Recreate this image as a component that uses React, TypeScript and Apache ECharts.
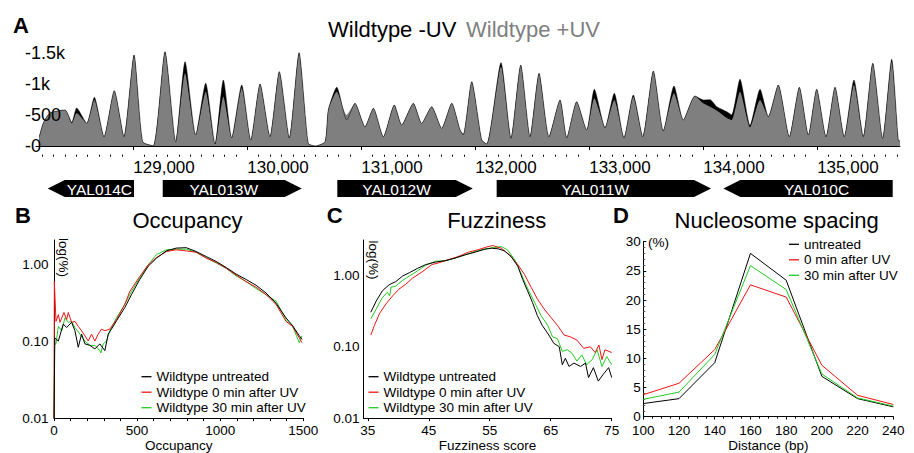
import React, { useEffect, useRef } from "react";
import * as echarts from "echarts";

const FONT = '"Liberation Sans", Arial, Helvetica, sans-serif';

// ---------- Panel A: genome browser (bp positions and read counts) ----------
const posA = [128175,128210,128269,128401,128460,128503,128591,128658,128743,128833,128918,129006,129082,129175,129278,129372,129454,129547,129635,129717,129790,129863,129951,130030,130112,130199,130281,130369,130454,130535,130594,130682,130711,130785,130872,130945,131033,131106,131194,131290,131355,131457,131530,131618,131706,131794,131867,131895,131969,132057,132101,132226,132314,132399,132481,132560,132647,132744,132803,132890,132978,133045,133139,133220,133305,133387,133470,133563,133650,133744,133826,133928,134001,134060,134119,134207,134250,134323,134411,134499,134572,134659,134756,134844,134923,134996,135078,135157,135238,135323,135405,135488,135575,135654,135712,135727];
const minusUV = [150,370,530,580,380,610,365,783,150,890,150,1463,70,5,1516,70,1355,177,1008,32,1061,129,981,96,997,150,1195,130,1500,43,0,70,580,944,418,686,310,606,150,659,338,686,365,632,285,686,257,177,1034,96,32,1340,123,1302,150,1169,150,740,130,713,257,912,290,847,130,820,150,1206,240,965,418,804,740,745,632,551,500,1072,330,912,472,981,150,944,177,912,150,944,150,1061,150,1329,123,1394,96,80];
const plusUV = [150,370,530,580,365,530,365,740,150,890,150,1463,70,5,1516,70,1170,177,873,32,793,129,928,96,997,150,1195,130,1500,43,0,70,580,873,500,686,310,606,150,659,338,686,365,632,285,686,257,200,1034,96,32,1275,123,1302,150,1169,150,740,150,713,257,767,310,740,150,793,150,1206,257,847,418,804,686,630,570,450,418,873,300,740,472,981,150,944,177,912,150,944,150,981,150,1329,123,1355,96,80];
const xTicksA = [129000, 130000, 131000, 132000, 133000, 134000, 135000];

// genes
const geneNames = ["YAL014C", "YAL013W", "YAL012W", "YAL011W", "YAL010C"];
const geneStart = [128249, 129258, 130790, 132188, 134177];
const geneEnd = [129006, 130478, 131978, 134069, 135663];
const geneStrand = [-1, 1, 1, 1, -1];

// ---------- Panel B: occupancy distribution ----------
const occBlack = [[0,0.01],[5,0.11],[26,0.10],[56,0.166],[76,0.15],[106,0.175],[126,0.136],[146,0.083],[166,0.123],[186,0.092],[216,0.088],[246,0.079],[276,0.092],[306,0.075],[326,0.123],[346,0.143],[376,0.183],[426,0.272],[466,0.40],[516,0.63],[566,0.93],[616,1.19],[676,1.48],[736,1.61],[796,1.63],[856,1.45],[916,1.25],[976,1.08],[1036,0.90],[1096,0.74],[1156,0.63],[1216,0.53],[1276,0.42],[1336,0.31],[1396,0.20],[1436,0.158],[1476,0.117],[1492,0.105]];
const occRed = [[0,0.01],[2,0.59],[12,0.18],[26,0.22],[36,0.175],[60,0.235],[76,0.19],[86,0.235],[106,0.175],[126,0.18],[146,0.155],[166,0.136],[186,0.117],[206,0.10],[226,0.123],[246,0.10],[266,0.123],[286,0.143],[306,0.136],[336,0.143],[376,0.19],[426,0.30],[456,0.44],[516,0.69],[566,0.97],[616,1.21],[676,1.45],[736,1.53],[796,1.48],[856,1.42],[916,1.19],[976,1.05],[1036,0.88],[1096,0.72],[1156,0.59],[1216,0.50],[1276,0.40],[1336,0.30],[1396,0.18],[1436,0.155],[1476,0.11],[1492,0.095]];
const occGreen = [[0,0.01],[3,0.09],[12,0.092],[26,0.155],[46,0.136],[66,0.20],[86,0.175],[106,0.18],[126,0.15],[156,0.123],[186,0.10],[216,0.088],[246,0.088],[276,0.075],[282,0.07],[296,0.092],[316,0.10],[336,0.136],[376,0.20],[426,0.30],[466,0.44],[516,0.66],[566,0.97],[616,1.32],[676,1.53],[736,1.56],[796,1.56],[856,1.42],[916,1.21],[976,1.03],[1036,0.88],[1096,0.70],[1156,0.59],[1216,0.48],[1276,0.40],[1336,0.33],[1396,0.19],[1436,0.155],[1476,0.095],[1492,0.117]];

// ---------- Panel C: fuzziness distribution ----------
const fuzBlack = [[35.5,0.305],[36.4,0.44],[37.4,0.61],[38.5,0.74],[39.6,0.82],[40.7,0.98],[41.8,1.09],[43.1,1.25],[44.5,1.42],[46.1,1.54],[47.7,1.61],[49.3,1.75],[51,1.95],[52.6,2.12],[54.2,2.33],[55.3,2.41],[56.4,2.36],[57.4,2.21],[58.5,1.85],[59.6,1.35],[60.4,0.88],[61.2,0.61],[62,0.42],[62.8,0.275],[63.6,0.20],[64.7,0.146],[65.5,0.112],[66.4,0.10],[66.9,0.056],[67.4,0.069],[68,0.053],[68.8,0.059],[69.9,0.053],[70.7,0.059],[71.2,0.037],[72,0.051],[72.8,0.033],[73.6,0.041],[74.5,0.051],[75,0.037]];
const fuzRed = [[35.5,0.146],[36.1,0.20],[36.9,0.29],[38,0.40],[39.1,0.52],[40.1,0.64],[41.2,0.75],[42.3,0.91],[43.9,1.12],[45.5,1.42],[46.6,1.50],[48.2,1.66],[49.9,1.85],[51.5,2.12],[53.1,2.29],[54.7,2.54],[55.5,2.62],[56.9,2.41],[58.2,1.95],[59.6,1.42],[60.7,1.03],[61.8,0.68],[62.8,0.47],[63.9,0.34],[65,0.26],[66.1,0.20],[67.2,0.146],[68.2,0.138],[69.3,0.124],[70.4,0.095],[71.5,0.10],[72.3,0.083],[72.9,0.106],[73.4,0.066],[73.9,0.091],[75,0.083]];
const fuzGreen = [[35.5,0.247],[36.4,0.34],[37.4,0.49],[38.2,0.58],[38.6,0.52],[38.8,0.68],[39.6,0.71],[40.7,0.85],[41.8,0.98],[43.1,1.15],[44.5,1.39],[46.1,1.58],[47.7,1.61],[49.3,1.75],[51,1.95],[52.6,2.17],[54.2,2.36],[55.8,2.46],[56.9,2.54],[57.9,2.29],[59.1,1.66],[60.1,1.09],[60.9,0.75],[61.8,0.52],[62.6,0.38],[63.4,0.275],[64.5,0.20],[65.3,0.138],[66.1,0.13],[66.9,0.086],[67.7,0.091],[68.5,0.081],[69.3,0.063],[70.1,0.077],[70.9,0.056],[71.8,0.066],[72.6,0.091],[73.4,0.053],[74.2,0.073],[75,0.056]];

// ---------- Panel D: nucleosome spacing ----------
const distCats = [100, 120, 140, 160, 180, 200, 220, 240];
const spUntreated = [2.24, 3.08, 9.25, 28.0, 23.4, 6.9, 3.08, 1.68];
const sp0min = [3.76, 5.72, 11.5, 22.6, 20.5, 8.8, 3.65, 2.08];
const sp30min = [2.97, 4.2, 10.66, 25.9, 21.8, 7.3, 3.2, 1.8];

const legendNamesBC = ["Wildtype untreated", "Wildtype 0 min after UV", "Wildtype 30 min after UV"];
const legendNamesD = ["untreated", "0 min after UV", "30 min after UV"];

const RED = "#f01414";
const GREEN = "#22cc22";
const GRAY = "#7f7f7f";

function buildOption() {
  const minorA: number[] = [];
  for (let v = 128200; v <= 135700; v += 100) if (v % 1000 !== 0) minorA.push(v);
  const comma = (v: number) => String(v).replace(/\B(?=(\d{3})+(?!\d))/g, ",");
  const plain = (v: number) => String(v);
  const axisBlack = { lineStyle: { color: "#000", width: 1 } };
  const smallLabel = { color: "#000", fontSize: 13.5, fontFamily: FONT };

  const geneData = geneNames.map((_, i) => [geneStart[i], geneEnd[i], geneStrand[i]]);

  const lineSeries = (name: string, data: any, x: number, y: number, color: string) => ({
    name, type: "line", xAxisIndex: x, yAxisIndex: y, data, showSymbol: false, symbol: "none",
    color, lineStyle: { color, width: 1 }, clip: false,
  });

  const txt = (text: string, x: number, y: number, size: number, extra: any = {}) => ({
    type: "text", x, y, rotation: extra.rotation || 0,
    style: {
      text, fontSize: size, fontFamily: FONT, fontWeight: extra.bold ? "bold" : "normal",
      fill: extra.fill || "#000", align: extra.align || "left", textAlign: extra.align || "left",
      verticalAlign: "middle", textVerticalAlign: "middle",
    },
  });

  return {
    animation: false,
    textStyle: { fontFamily: FONT },
    grid: [
      { left: 36, top: 52.7, width: 864, height: 93.3 },
      { left: 36, top: 180, width: 864, height: 17 },
      { left: 54, top: 240, width: 249.3, height: 180 },
      { left: 363.5, top: 240, width: 248.2, height: 180 },
      { left: 643.3, top: 241.7, width: 250, height: 178.3 },
    ],
    xAxis: [
      {
        gridIndex: 0, type: "value", min: 128146, max: 135727, position: "bottom", offset: 8.7,
        axisLine: axisBlack, splitLine: { show: false },
        axisTick: { customValues: xTicksA, length: 4, lineStyle: { color: "#000" } },
        axisLabel: { customValues: xTicksA, formatter: comma, align: "left", margin: 4, fontSize: 17, color: "#000", fontFamily: FONT },
      },
      {
        gridIndex: 0, type: "value", min: 128146, max: 135727, position: "bottom", offset: 8.7,
        axisLine: { show: false }, splitLine: { show: false },
        axisTick: { customValues: minorA, length: 2, lineStyle: { color: "#000" } },
        axisLabel: { show: false },
      },
      { gridIndex: 1, type: "value", min: 128146, max: 135727, show: false },
      {
        gridIndex: 2, type: "value", min: 0, max: 1500, interval: 500,
        axisLine: axisBlack, splitLine: { show: false },
        axisTick: { length: 3, lineStyle: { color: "#000" } },
        minorTick: { show: true, splitNumber: 5, length: 3, lineStyle: { color: "#000" } },
        axisLabel: { ...smallLabel, margin: 5, formatter: plain },
        name: "Occupancy", nameLocation: "middle", nameGap: 18, nameTextStyle: smallLabel,
      },
      {
        gridIndex: 3, type: "value", min: 34.3, max: 75,
        axisLine: axisBlack, splitLine: { show: false },
        axisTick: { customValues: [35, 45, 55, 65, 75], length: 3, lineStyle: { color: "#000" } },
        axisLabel: { ...smallLabel, margin: 5, customValues: [35, 45, 55, 65, 75], formatter: plain },
        name: "Fuzziness score", nameLocation: "middle", nameGap: 18, nameTextStyle: smallLabel,
      },
      {
        gridIndex: 4, type: "value", min: 100, max: 240, interval: 20,
        axisLine: axisBlack, splitLine: { show: false },
        axisTick: { length: 3, lineStyle: { color: "#000" } },
        minorTick: { show: true, splitNumber: 4, length: 2, lineStyle: { color: "#000" } },
        axisLabel: { ...smallLabel, margin: 7.5, lineHeight: 12, formatter: plain },
        name: "Distance (bp)", nameLocation: "middle", nameGap: 18, nameTextStyle: smallLabel,
      },
    ],
    yAxis: [
      {
        gridIndex: 0, type: "value", min: 0, max: 1500, interval: 500, z: 10,
        axisLine: { show: false }, axisTick: { show: false }, splitLine: { show: false },
        axisLabel: {
          align: "left", margin: 11, fontSize: 18, color: "#000", fontFamily: FONT,
          formatter: (v: number) => (v === 0 ? "-0" : v >= 1000 ? "-" + v / 1000 + "k" : "-" + v),
        },
      },
      { gridIndex: 1, type: "value", min: 0, max: 1, show: false },
      {
        gridIndex: 2, type: "log", logBase: 10, min: 0.01, max: 2.05,
        axisLine: { show: true, ...axisBlack }, axisTick: { show: false }, splitLine: { show: false },
        axisLabel: { ...smallLabel, margin: 5.5, showMaxLabel: false, formatter: (v: number) => Number(v).toFixed(2) },
      },
      {
        gridIndex: 3, type: "log", logBase: 10, min: 0.01, max: 3.14,
        axisLine: { show: true, ...axisBlack }, axisTick: { show: false }, splitLine: { show: false },
        axisLabel: { ...smallLabel, margin: 4, showMaxLabel: false, formatter: (v: number) => Number(v).toFixed(2) },
      },
      {
        gridIndex: 4, type: "value", min: 0, max: 30, interval: 5,
        axisLine: { show: true, ...axisBlack }, splitLine: { show: false },
        axisTick: { show: true, inside: true, length: 3, lineStyle: { color: "#000" } },
        minorTick: { show: true, splitNumber: 5, length: 2, lineStyle: { color: "#555" } },
        axisLabel: { ...smallLabel, margin: 2.5, lineHeight: 12 },
      },
    ],
    legend: [
      {
        data: [
          { name: "Wildtype -UV", textStyle: { color: "#000" } },
          { name: "Wildtype +UV", textStyle: { color: GRAY } },
        ],
        left: 323, top: 18, padding: 0, icon: "none", itemWidth: 0, itemHeight: 0, itemGap: 4.7,
        selectedMode: false, textStyle: { fontSize: 22, fontFamily: FONT },
      },
      {
        data: legendNamesBC, orient: "vertical", left: 141.5, top: 369.7, padding: 0,
        icon: "rect", itemWidth: 10, itemHeight: 1.3, itemGap: 1.5, selectedMode: false,
        textStyle: { fontSize: 13.5, color: "#000", fontFamily: FONT },
      },
      {
        data: legendNamesBC, orient: "vertical", left: 368.5, top: 369.7, padding: 0,
        icon: "rect", itemWidth: 10, itemHeight: 1.3, itemGap: 1.5, selectedMode: false,
        textStyle: { fontSize: 13.5, color: "#000", fontFamily: FONT },
      },
      {
        data: legendNamesD, orient: "vertical", left: 789, top: 237.3, padding: 0,
        icon: "rect", itemWidth: 10, itemHeight: 1.3, itemGap: 1.5, selectedMode: false,
        textStyle: { fontSize: 13.5, color: "#000", fontFamily: FONT },
      },
    ],
    series: [
      {
        name: "Wildtype -UV", type: "line", xAxisIndex: 0, yAxisIndex: 0,
        data: posA.map((p, i) => [p, minusUV[i]]), showSymbol: false, symbol: "none",
        smooth: 0.2, color: "#000", lineStyle: { color: "#000", width: 0.5 },
        areaStyle: { color: "#000", opacity: 1 }, clip: false,
      },
      {
        name: "Wildtype +UV", type: "line", xAxisIndex: 0, yAxisIndex: 0,
        data: posA.map((p, i) => [p, plusUV[i]]), showSymbol: false, symbol: "none",
        smooth: 0.2, color: GRAY, lineStyle: { color: GRAY, width: 0 },
        areaStyle: { color: GRAY, opacity: 1 }, clip: false,
      },
      {
        name: "genes", type: "custom", xAxisIndex: 2, yAxisIndex: 1, data: geneData, clip: false,
        renderItem: (params: any, api: any) => {
          const s = api.value(0), e = api.value(1), dir = api.value(2);
          const a = api.coord([s, 1]);
          const b = api.coord([e, 0]);
          const x0 = a[0], x1 = b[0], yt = a[1], yb = b[1], ym = (yt + yb) / 2, h = 17;
          let pts: number[][], cx: number;
          if (dir > 0) {
            pts = [[x0, yt], [x1 - h, yt], [x1, ym], [x1 - h, yb], [x0, yb]];
            cx = (x0 + x1 - h) / 2;
          } else {
            pts = [[x1, yt], [x0 + h, yt], [x0, ym], [x0 + h, yb], [x1, yb]];
            cx = (x0 + h + x1) / 2;
          }
          return {
            type: "group",
            children: [
              { type: "polygon", shape: { points: pts }, style: { fill: "#000" } },
              {
                type: "text",
                style: {
                  text: geneNames[params.dataIndex], x: cx, y: ym + 0.5, align: "center", verticalAlign: "middle",
                  fill: "#fff", fontSize: 15.5, fontFamily: FONT,
                },
              },
            ],
          };
        },
      },
      lineSeries(legendNamesBC[2], occGreen, 3, 2, GREEN),
      lineSeries(legendNamesBC[1], occRed, 3, 2, RED),
      lineSeries(legendNamesBC[0], occBlack, 3, 2, "#000"),
      lineSeries(legendNamesBC[2], fuzGreen, 4, 3, GREEN),
      lineSeries(legendNamesBC[1], fuzRed, 4, 3, RED),
      lineSeries(legendNamesBC[0], fuzBlack, 4, 3, "#000"),
      lineSeries(legendNamesD[0], distCats.map((d, i) => [d, spUntreated[i]]), 5, 4, "#000"),
      lineSeries(legendNamesD[1], distCats.map((d, i) => [d, sp0min[i]]), 5, 4, RED),
      lineSeries(legendNamesD[2], distCats.map((d, i) => [d, sp30min[i]]), 5, 4, GREEN),
    ],
    graphic: [
      txt("A", 13, 25, 22, { bold: true }),
      txt("B", 15, 215.8, 22, { bold: true }),
      txt("C", 326.7, 215.8, 22, { bold: true }),
      txt("D", 613, 215.8, 22, { bold: true }),
      txt("Occupancy", 187.5, 220, 22, { align: "center" }),
      txt("Fuzziness", 496.7, 220, 22, { align: "center" }),
      txt("Nucleosome spacing", 776.7, 220, 22, { align: "center" }),
      txt("log(%)", 63, 257.5, 13.5, { align: "center", rotation: -Math.PI / 2 }),
      txt("log(%)", 373, 260, 13.5, { align: "center", rotation: -Math.PI / 2 }),
      txt("(%)", 648, 242.5, 13.5, {}),
    ],
  };
}

export default function App() {
  const ref = useRef<HTMLDivElement>(null);
  useEffect(() => {
    if (!ref.current) return;
    const chart = echarts.init(ref.current, null, { renderer: "svg", width: 914, height: 453 });
    chart.setOption(buildOption() as any);
    return () => chart.dispose();
  }, []);
  return (
    <div
      ref={ref}
      style={{ position: "absolute", left: 0, top: 0, width: 914, height: 453, background: "#fff" }}
    />
  );
}
